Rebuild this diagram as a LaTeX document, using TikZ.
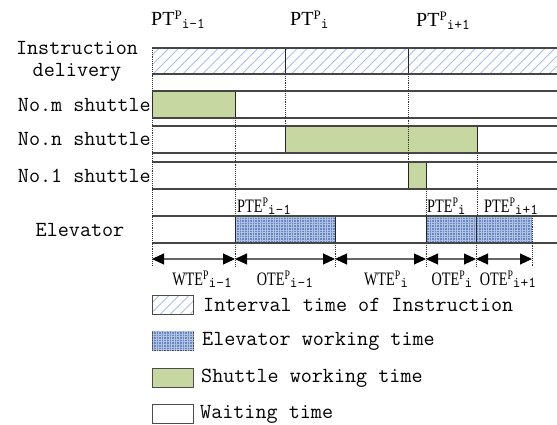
\documentclass[tikz,border=0pt]{standalone}
\usepackage{fontspec}
\setmainfont{Liberation Serif}
\newfontfamily\serc[FakeStretch=0.75]{Liberation Serif}
\usetikzlibrary{arrows.meta,patterns.meta}
\definecolor{shgreen}{RGB}{198,215,162}
\definecolor{elblue}{RGB}{105,135,190}
\definecolor{elgrid}{RGB}{178,196,230}
\definecolor{hatchc}{RGB}{170,190,230}
\definecolor{rowc}{RGB}{70,70,70}
\newcommand\tlab[3]{#1\raisebox{0.3em}{\fontsize{13}{13}\selectfont #2}\raisebox{-0.15em}{\fontsize{15}{15}\ttfamily #3}}
\tikzset{
  rowedge/.style={draw=rowc, line width=1.5pt},
  vdot/.style={densely dotted, line width=0.9pt, draw=black!80},
  vsolid/.style={line width=1pt, draw=black!85},
  shut/.style={draw=black!85, line width=1pt, fill=shgreen},
  elev/.style={fill=elblue, postaction={pattern={Hatch[angle=0,distance=2.6pt,line width=0.7pt]}, pattern color=elgrid}},
  hatchfill/.style={pattern={Lines[angle=45,distance=7pt,line width=0.9pt]}, pattern color=hatchc},
  monotext/.style={font=\fontsize{21.5}{23}\ttfamily, inner sep=0pt},
  ptlab/.style={font=\fontsize{20}{21}\selectfont, inner sep=0pt, anchor=base west},
  smlab/.style={font=\fontsize{19}{20}\serc, inner sep=0pt},
  dimarrow/.style={draw=black!60, line width=1.1pt, {Triangle[length=12pt,width=11pt,black]}-{Triangle[length=12pt,width=11pt,black]}},
  swatch/.style={draw=black!70, line width=1pt, minimum width=41pt, minimum height=19pt, inner sep=0pt}
}
\begin{document}
\begin{tikzpicture}[x=1pt,y=-1pt]
\useasboundingbox (0,0) rectangle (557,425);

% ---- row labels
\node[monotext, align=center] (lblins) at (77,61) {Instruction\\[-1pt]delivery};
\node[monotext, anchor=east] (lblm) at (151,105) {No.m shuttle};
\node[monotext, anchor=east] (lbln) at (151,139) {No.n shuttle};
\node[monotext, anchor=east] (lbl1) at (151,176) {No.1 shuttle};
\node[monotext] (lblel) at (80,230) {Elevator};

% ---- top PT labels
\node[ptlab] (pt0) at (151,26) {\tlab{PT}{P}{i-1}};
\node[ptlab] (pt1) at (290,26) {\tlab{PT}{P}{i}};
\node[ptlab] (pt2) at (416,27) {\tlab{PT}{P}{i+1}};

% ---- instruction delivery row
\fill[hatchfill] (152,48) rectangle (557,74);
\draw[vsolid] (285,48) -- (285,74);
\draw[vsolid] (408,48) -- (408,74);

% ---- shuttle working boxes
\draw[shut] (152,91) rectangle (235,118);
\draw[shut] (285,126) rectangle (477,153);
\draw[shut] (408,162) rectangle (426,189);

% ---- elevator working boxes
\fill[elev] (235,216) rectangle (335,243);
\fill[elev] (426,216) rectangle (476,243);
\fill[elev] (476,216) rectangle (532,243);
\draw[vsolid] (235,216) -- (235,243);
\draw[vsolid] (335,216) -- (335,243);
\draw[vsolid] (426,216) -- (426,243);
\draw[vsolid] (476,216) -- (476,243);

% ---- row edges
\foreach \t/\b in {48/74, 91/118, 126/153, 162/189, 216/243}{
  \draw[rowedge] (152,\t) -- (557,\t);
  \draw[rowedge] (152,\b) -- (557,\b);
}

% ---- dotted guides
\draw[vdot] (152,48) -- (152,266);
\draw[vdot] (235,118) -- (235,216);
\draw[vdot] (235,243) -- (235,266);
\draw[vdot] (285,74) -- (285,126);
\draw[vdot] (408,74) -- (408,162);
\draw[vdot] (426,189) -- (426,216);
\draw[vdot] (426,243) -- (426,266);
\draw[vdot] (477,153) -- (477,216);
\draw[vdot] (476,243) -- (476,266);
\draw[vdot] (335,243) -- (335,266);
\draw[vdot] (532,216) -- (532,266);

% ---- PTE labels
\node[smlab, anchor=base west] (pte0) at (237,212) {\tlab{PTE}{P}{i-1}};
\node[smlab, anchor=base west] (pte1) at (427,212) {\tlab{PTE}{P}{i}};
\node[smlab, anchor=base west] (pte2) at (484,212) {\tlab{PTE}{P}{i+1}};

% ---- dimension arrows
\coordinate (a0) at (152,259);
\coordinate (a1) at (235,259);
\coordinate (a2) at (335,259);
\coordinate (a3) at (426,259);
\coordinate (a4) at (476,259);
\coordinate (a5) at (532,259);
\draw[dimarrow] (a0) -- (a1);
\draw[dimarrow] (a1) -- (a2);
\draw[dimarrow] (a2) -- (a3);
\draw[dimarrow] (a3) -- (a4);
\draw[dimarrow] (a4) -- (a5);

\node[smlab, anchor=base] (w0) at (202,285) {\tlab{WTE}{P}{i-1}};
\node[smlab, anchor=base] (o0) at (285,285) {\tlab{OTE}{P}{i-1}};
\node[smlab, anchor=base] (w1) at (386,285) {\tlab{WTE}{P}{i}};
\node[smlab, anchor=base] (o1) at (452,285) {\tlab{OTE}{P}{i}};
\node[smlab, anchor=base] (o2) at (508,285) {\tlab{OTE}{P}{i+1}};

% ---- legend
\node[swatch, hatchfill, anchor=north west] (sw1) at (152,295) {};
\node[swatch, elev, anchor=north west] (sw2) at (152,331) {};
\node[swatch, fill=shgreen, anchor=north west] (sw3) at (152,368) {};
\node[swatch, fill=white, anchor=north west] (sw4) at (152,404) {};
\node[monotext, anchor=west] (lg1) at (203,305) {Interval time of Instruction};
\node[monotext, anchor=west] (lg2) at (202,341) {Elevator working time};
\node[monotext, anchor=west] (lg3) at (201,378) {Shuttle working time};
\node[monotext, anchor=west] (lg4) at (200,414) {Waiting time};
\end{tikzpicture}
\end{document}
